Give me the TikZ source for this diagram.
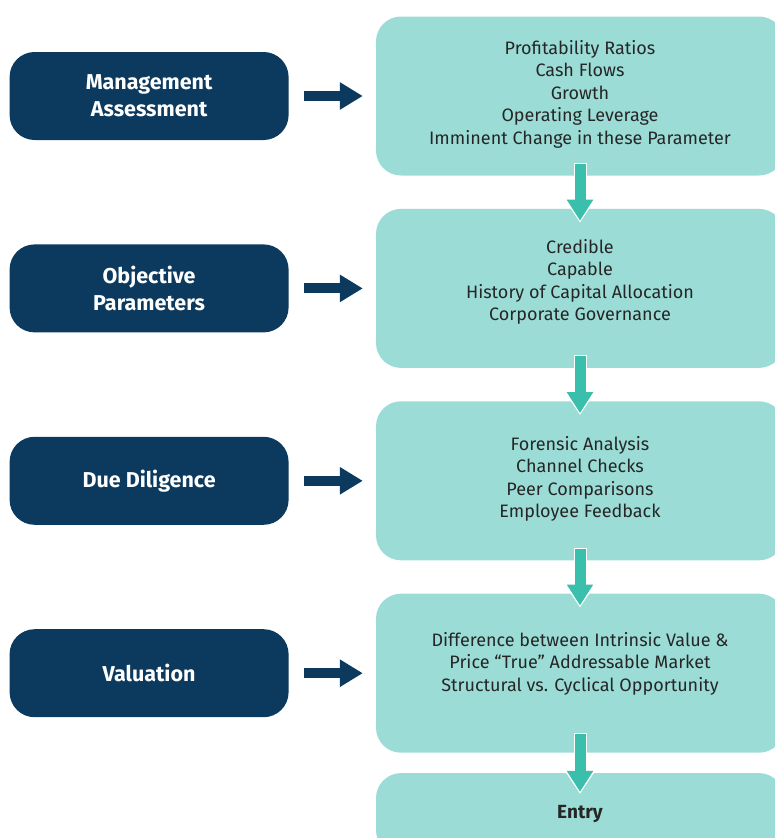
\documentclass[tikz,border=0pt]{standalone}
\usepackage{fontspec}
\setmainfont{Fira Sans}
\usetikzlibrary{positioning,arrows.meta}
\definecolor{navy}{HTML}{0B3A5E}
\definecolor{aqua}{HTML}{9BDDD6}
\definecolor{seagreen}{HTML}{3BBFAD}

\begin{document}
\begin{tikzpicture}[x=1pt, y=1pt,
        pbox/.style = {fill=aqua, rounded corners=25pt, minimum width=408pt, minimum height=159pt,
            align=center, text=black!85, font=\fontsize{18}{22.5}\selectfont},
        mbox/.style = {fill=navy, rounded corners=25pt, minimum width=279pt, minimum height=88pt,
            align=center, text=white, font=\fontsize{21.5}{27}\selectfont\bfseries},
        rarrow/.style = {navy, line width=10pt, -{Triangle[length=23pt,width=26pt]},
            shorten <=15pt, shorten >=13pt},
        darrowbg/.style = {white, line width=13pt, -{Triangle[length=24pt,width=30pt]}},
        darrow/.style = {seagreen, line width=11pt, -{Triangle[length=21pt,width=25pt]}}]
    \useasboundingbox (0,0) rectangle (774,-838);
    % right column
    \node[pbox, text depth=8pt] (p1) at (580,-96) {Profitability Ratios\\Cash Flows\\Growth\\Operating Leverage\\Imminent Change in these Parameter};
    \node[pbox, text depth=17pt] (p2) [below=33pt of p1] {Credible\\Capable\\History of Capital Allocation\\Corporate Governance};
    \node[pbox, text depth=8pt] (p3) [below=33pt of p2] {Forensic Analysis\\Channel Checks\\Peer Comparisons\\Employee Feedback};
    \node[pbox, text depth=23pt] (p4) [below=33pt of p3] {Difference between Intrinsic Value \&\\Price “True” Addressable Market\\Structural vs. Cyclical Opportunity};
    \node[pbox, minimum height=82pt, font=\fontsize{19}{22}\selectfont\bfseries] (p5) [below=20pt of p4] {Entry};
    % left column
    \node[mbox] (m1) [left=87pt of p1] {Management\\Assessment};
    \node[mbox] (m2) [left=87pt of p2] {Objective\\Parameters};
    \node[mbox] (m3) [left=87pt of p3] {Due Diligence};
    \node[mbox] (m4) [left=87pt of p4] {Valuation};
    % arrows
    \foreach \i in {1,...,4}
        \draw[rarrow] (m\i.east) -- (p\i.west);
    \foreach \a/\b/\e in {p1/p2/12, p2/p3/12, p3/p4/12, p4/p5/19} {
        \draw[darrowbg] ([yshift=\e+1]\a.south) -- ([yshift=-\e-2]\b.north);
        \draw[darrow] ([yshift=\e]\a.south) -- ([yshift=-\e]\b.north);
    }
\end{tikzpicture}
\end{document}
